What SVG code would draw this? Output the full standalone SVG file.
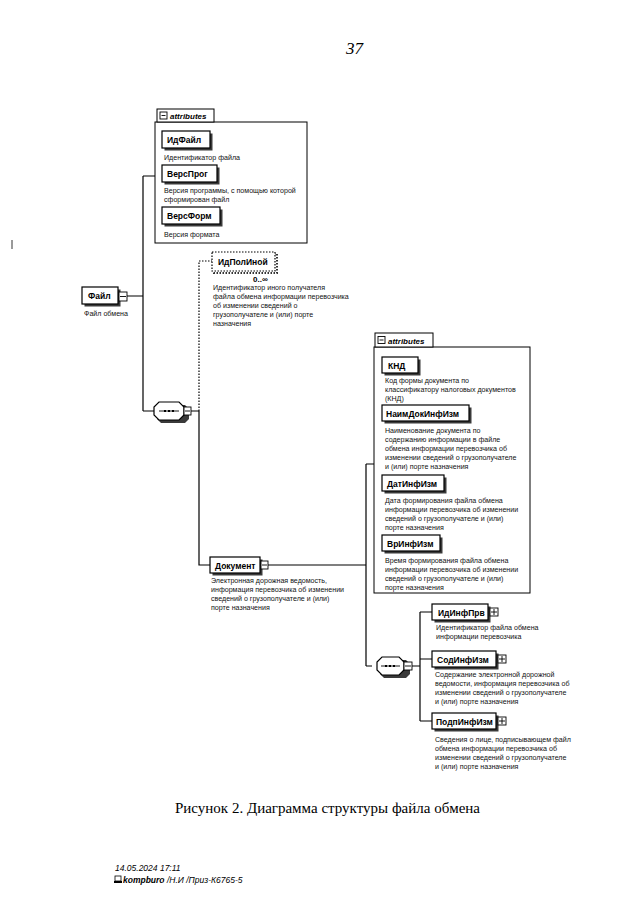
<svg xmlns="http://www.w3.org/2000/svg" width="640" height="905" viewBox="0 0 640 905">
<defs>
<style>
.bg{fill:#fff}
.el{fill:#fff;stroke:#000;stroke-width:1.2}
.sh{fill:#3a3a3a}
.lbl{font-family:"Liberation Sans",Arial,sans-serif;font-weight:bold;font-size:8.5px;fill:#000}
.d{font-family:"Liberation Sans",Arial,sans-serif;font-size:7.1px;fill:#111}
.tab{fill:#fff;stroke:#000;stroke-width:1}
.tabt{font-family:"Liberation Sans",Arial,sans-serif;font-weight:bold;font-style:italic;font-size:8px;fill:#000}
.box{fill:none;stroke:#000;stroke-width:1}
.ln{fill:none;stroke:#000;stroke-width:1.2}
.dot{fill:none;stroke:#000;stroke-width:1.2;stroke-dasharray:1.5 1.5}
.ic{fill:#fff;stroke:#000;stroke-width:0.9}
.icl{stroke:#000;stroke-width:0.9}
</style>
</defs>
<rect class="bg" x="0" y="0" width="640" height="905"/>
<text x="346" y="54" font-family="Liberation Serif,serif" font-style="italic" font-size="17" fill="#000">37</text>
<line x1="12" y1="240" x2="12" y2="249" stroke="#000" stroke-width="0.8"/>

<g id="connectors">
<path class="ln" d="M127 296H143M143 176V411M143 176H155M143 411H154M191 411H199M199 411V565H210M268 565H366M366 464V666M366 464H374M366 666H372M412 666H420M420 612V721M420 612H432M420 659H432M420 721H432"/>
<path class="dot" d="M199 411V261H212"/>
</g>

<g id="attributes1">
<rect class="box" x="155" y="122" width="152" height="121"/>
<rect class="tab" x="157" y="109" width="57" height="13"/>
<rect class="ic" x="160" y="112" width="7" height="7"/>
<line class="icl" x1="161.5" y1="115.5" x2="165.5" y2="115.5"/>
<text class="tabt" x="170" y="119">attributes</text>
</g>

<g id="ИдФайл">
<rect class="sh" x="164.5" y="133.5" width="48" height="17"/>
<rect class="el" x="162" y="131" width="48" height="17"/>
<text class="lbl" x="167" y="143">ИдФайл</text>
<text class="d" x="164" y="160">Идентификатор файла</text>
</g>
<g id="ВерсПрог">
<rect class="sh" x="164.5" y="167.5" width="55" height="17"/>
<rect class="el" x="162" y="165" width="55" height="17"/>
<text class="lbl" x="167" y="177">ВерсПрог</text>
<text class="d" x="164" y="193">Версия программы, с помощью которой</text>
<text class="d" x="164" y="202">сформирован файл</text>
</g>
<g id="ВерсФорм">
<rect class="sh" x="164.5" y="209.5" width="58" height="17"/>
<rect class="el" x="162" y="207" width="58" height="17"/>
<text class="lbl" x="167" y="219">ВерсФорм</text>
<text class="d" x="164" y="237">Версия формата</text>
</g>

<g id="Файл">
<rect class="sh" x="84.5" y="289.5" width="36" height="17"/>
<rect class="el" x="82" y="287" width="36" height="17"/>
<text class="lbl" x="88" y="299">Файл</text>
<rect class="ic" x="119" y="292" width="8" height="9"/>
<line class="icl" x1="120" y1="296.5" x2="126" y2="296.5"/>
<text class="d" x="84" y="316">Файл обмена</text>
</g>

<g id="ИдПолИной">
<rect x="214" y="254" width="63" height="19" fill="none" stroke="#333" stroke-width="2" stroke-dasharray="1.5 1.5"/>
<rect x="212" y="252" width="63" height="19" fill="#fff" stroke="#000" stroke-width="1.2" stroke-dasharray="1.5 1.5"/>
<text class="lbl" x="218" y="265">ИдПолИной</text>
<text x="253" y="282" font-family="Liberation Sans,Arial,sans-serif" font-weight="bold" font-size="8px" fill="#000">0..∞</text>
<text class="d" x="213" y="290">Идентификатор иного получателя</text>
<text class="d" x="213" y="299">файла обмена информации перевозчика</text>
<text class="d" x="213" y="308">об изменении сведений о</text>
<text class="d" x="213" y="317">грузополучателе и (или) порте</text>
<text class="d" x="213" y="326">назначения</text>
</g>

<g id="sequence1">
<path class="sh" d="M161 405H185L189 409V419L185 423H161L157 419V409Z"/>
<path class="el" d="M159 402H179L184 407V415L179 420H159L154 415V407Z"/>
<line class="icl" x1="159" y1="411" x2="179" y2="411"/>
<rect x="164" y="410" width="2" height="2" fill="#000"/>
<rect x="168" y="410" width="2" height="2" fill="#000"/>
<rect x="172" y="410" width="2" height="2" fill="#000"/>
<rect class="ic" x="184" y="407" width="7" height="8"/>
<line class="icl" x1="185" y1="411" x2="190" y2="411"/>
</g>

<g id="Документ">
<rect class="sh" x="212.5" y="559.5" width="50" height="16"/>
<rect class="el" x="210" y="557" width="50" height="16"/>
<text class="lbl" x="215" y="568.5">Документ</text>
<rect class="ic" x="261" y="561" width="7" height="8"/>
<line class="icl" x1="262" y1="565" x2="267" y2="565"/>
<text class="d" x="211" y="583">Электронная дорожная ведомость,</text>
<text class="d" x="211" y="592">информация перевозчика об изменении</text>
<text class="d" x="211" y="601">сведений о грузополучателе и (или)</text>
<text class="d" x="211" y="610">порте назначения</text>
</g>

<g id="attributes2">
<rect class="box" x="374" y="347" width="156" height="246"/>
<rect class="tab" x="375" y="333" width="58" height="14"/>
<rect class="ic" x="378" y="336.5" width="7" height="7"/>
<line class="icl" x1="379.5" y1="340" x2="383.5" y2="340"/>
<text class="tabt" x="388" y="343.5">attributes</text>
</g>

<g id="КНД">
<rect class="sh" x="384.5" y="359.5" width="36" height="16"/>
<rect class="el" x="382" y="357" width="36" height="16"/>
<text class="lbl" x="388" y="368.5">КНД</text>
<text class="d" x="385" y="383">Код формы документа по</text>
<text class="d" x="385" y="392">классификатору налоговых документов</text>
<text class="d" x="385" y="401">(КНД)</text>
</g>
<g id="НаимДокИнфИзм">
<rect class="sh" x="384.5" y="407.5" width="87" height="16"/>
<rect class="el" x="382" y="405" width="87" height="16"/>
<text class="lbl" x="386" y="416.5">НаимДокИнфИзм</text>
<text class="d" x="385" y="433">Наименование документа по</text>
<text class="d" x="385" y="442">содержанию информации в файле</text>
<text class="d" x="385" y="451">обмена информации перевозчика об</text>
<text class="d" x="385" y="460">изменении сведений о грузополучателе</text>
<text class="d" x="385" y="469">и (или) порте назначения</text>
</g>
<g id="ДатИнфИзм">
<rect class="sh" x="384.5" y="477.5" width="62" height="16"/>
<rect class="el" x="382" y="475" width="62" height="16"/>
<text class="lbl" x="387" y="486.5">ДатИнфИзм</text>
<text class="d" x="385" y="503">Дата формирования файла обмена</text>
<text class="d" x="385" y="512">информации перевозчика об изменении</text>
<text class="d" x="385" y="521">сведений о грузополучателе и (или)</text>
<text class="d" x="385" y="530">порте назначения</text>
</g>
<g id="ВрИнфИзм">
<rect class="sh" x="384.5" y="537.5" width="58" height="16"/>
<rect class="el" x="382" y="535" width="58" height="16"/>
<text class="lbl" x="387" y="546.5">ВрИнфИзм</text>
<text class="d" x="385" y="563">Время формирования файла обмена</text>
<text class="d" x="385" y="572">информации перевозчика об изменении</text>
<text class="d" x="385" y="581">сведений о грузополучателе и (или)</text>
<text class="d" x="385" y="590">порте назначения</text>
</g>

<g id="sequence2">
<path class="sh" d="M384 660H406L410 664V674L406 678H384L380 674V664Z"/>
<path class="el" d="M382 657H399L404 662V670L399 675H382L377 670V662Z"/>
<line class="icl" x1="381" y1="666" x2="400" y2="666"/>
<rect x="385" y="665" width="2" height="2" fill="#000"/>
<rect x="389" y="665" width="2" height="2" fill="#000"/>
<rect x="393" y="665" width="2" height="2" fill="#000"/>
<rect class="ic" x="404" y="662" width="8" height="8"/>
<line class="icl" x1="405" y1="666" x2="411" y2="666"/>
</g>

<g id="ИдИнфПрв">
<rect class="sh" x="434.5" y="606.5" width="56" height="16"/>
<rect class="el" x="432" y="604" width="56" height="16"/>
<text class="lbl" x="438" y="615.5">ИдИнфПрв</text>
<rect class="ic" x="490" y="608" width="8" height="8"/>
<line class="icl" x1="491" y1="612" x2="497" y2="612"/>
<line class="icl" x1="494" y1="609" x2="494" y2="615"/>
<text class="d" x="436" y="630">Идентификатор файла обмена</text>
<text class="d" x="436" y="639">информации перевозчика</text>
</g>
<g id="СодИнфИзм">
<rect class="sh" x="434.5" y="653.5" width="64" height="16"/>
<rect class="el" x="432" y="651" width="64" height="16"/>
<text class="lbl" x="437" y="662.5">СодИнфИзм</text>
<rect class="ic" x="498" y="655" width="8" height="8"/>
<line class="icl" x1="499" y1="659" x2="505" y2="659"/>
<line class="icl" x1="502" y1="656" x2="502" y2="662"/>
<text class="d" x="435" y="677">Содержание электронной дорожной</text>
<text class="d" x="435" y="686">ведомости, информация перевозчика об</text>
<text class="d" x="435" y="695">изменении сведений о грузополучателе</text>
<text class="d" x="435" y="704">и (или) порте назначения</text>
</g>
<g id="ПодпИнфИзм">
<rect class="sh" x="434.5" y="715.5" width="64" height="16"/>
<rect class="el" x="432" y="713" width="64" height="16"/>
<text class="lbl" x="436" y="724.5">ПодпИнфИзм</text>
<rect class="ic" x="498" y="717" width="8" height="8"/>
<line class="icl" x1="499" y1="721" x2="505" y2="721"/>
<line class="icl" x1="502" y1="718" x2="502" y2="724"/>
<text class="d" x="435" y="742">Сведения о лице, подписывающем файл</text>
<text class="d" x="435" y="751">обмена информации перевозчика об</text>
<text class="d" x="435" y="760">изменении сведений о грузополучателе</text>
<text class="d" x="435" y="769">и (или) порте назначения</text>
</g>

<text x="175" y="813" font-family="Liberation Serif,serif" font-size="15" fill="#000">Рисунок 2. Диаграмма структуры файла обмена</text>

<g id="footer">
<text x="115" y="871" font-family="Liberation Sans,Arial,sans-serif" font-style="italic" font-size="8.5" fill="#000">14.05.2024 17:11</text>
<rect x="115" y="876" width="6" height="5" fill="none" stroke="#000" stroke-width="0.8"/>
<rect x="114" y="881" width="8" height="2" fill="#000"/>
<text x="123" y="883" font-family="Liberation Sans,Arial,sans-serif" font-style="italic" font-size="8.5" fill="#000"><tspan font-weight="bold">kompburo</tspan> /Н.И /Приз-К6765-5</text>
</g>
</svg>
